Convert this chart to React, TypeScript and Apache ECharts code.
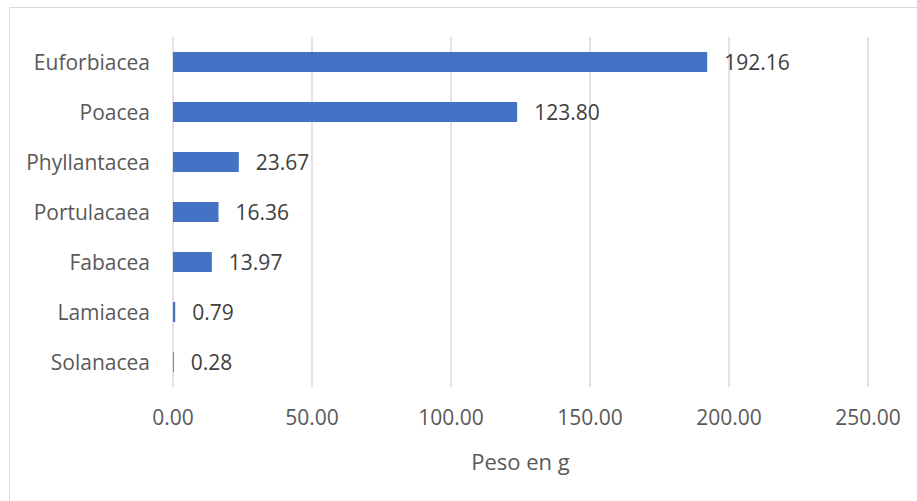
import React, { useEffect, useRef } from "react";
import * as echarts from "echarts";

const categories = ["Euforbiacea", "Poacea", "Phyllantacea", "Portulacaea", "Fabacea", "Lamiacea", "Solanacea"];
const values = [192.16, 123.8, 23.67, 16.36, 13.97, 0.79, 0.28];
const xTicks = [0, 50, 100, 150, 200, 250];
const axisTitle = "Peso en g";

export default function App() {
  const ref = useRef<HTMLDivElement>(null);
  useEffect(() => {
    if (!ref.current) return;
    const chart = echarts.init(ref.current, undefined, { renderer: "svg" });
    const font = "'Open Sans', 'Liberation Sans', sans-serif";
    chart.setOption({
      animation: false,
      backgroundColor: "#ffffff",
      graphic: [
        {
          type: "rect",
          shape: { x: 9.5, y: 7.5, width: 930, height: 520 },
          style: { fill: "none", stroke: "#d9d9d9", lineWidth: 1 },
          silent: true,
        },
      ],
      grid: { left: 173, right: 49, top: 37, bottom: 114 },
      xAxis: {
        type: "value",
        min: xTicks[0],
        max: xTicks[xTicks.length - 1],
        interval: 50,
        name: axisTitle,
        nameLocation: "middle",
        nameGap: 63,
        nameTextStyle: { color: "#595959", fontSize: 22, fontFamily: font },
        axisLine: { show: false },
        axisTick: { show: false },
        axisLabel: {
          color: "#595959",
          fontSize: 21,
          fontFamily: font,
          margin: 19,
          formatter: (v: number) => v.toFixed(2),
        },
        splitLine: { show: true, lineStyle: { color: "#d9d9d9", width: 1.5 } },
      },
      yAxis: {
        type: "category",
        data: categories,
        inverse: true,
        axisLine: { show: false },
        axisTick: { show: false },
        axisLabel: { color: "#595959", fontSize: 21, fontFamily: font, margin: 23 },
      },
      series: [
        {
          type: "bar",
          data: values,
          barWidth: 20,
          itemStyle: { color: "#4472c4" },
          label: {
            show: true,
            position: "right",
            distance: 17,
            color: "#404040",
            fontSize: 21,
            fontFamily: font,
            formatter: (p: any) => Number(p.value).toFixed(2),
          },
        },
      ],
    });
    return () => chart.dispose();
  }, []);
  return <div ref={ref} style={{ position: "fixed", left: 0, top: 0, width: 917, height: 501 }} />;
}
